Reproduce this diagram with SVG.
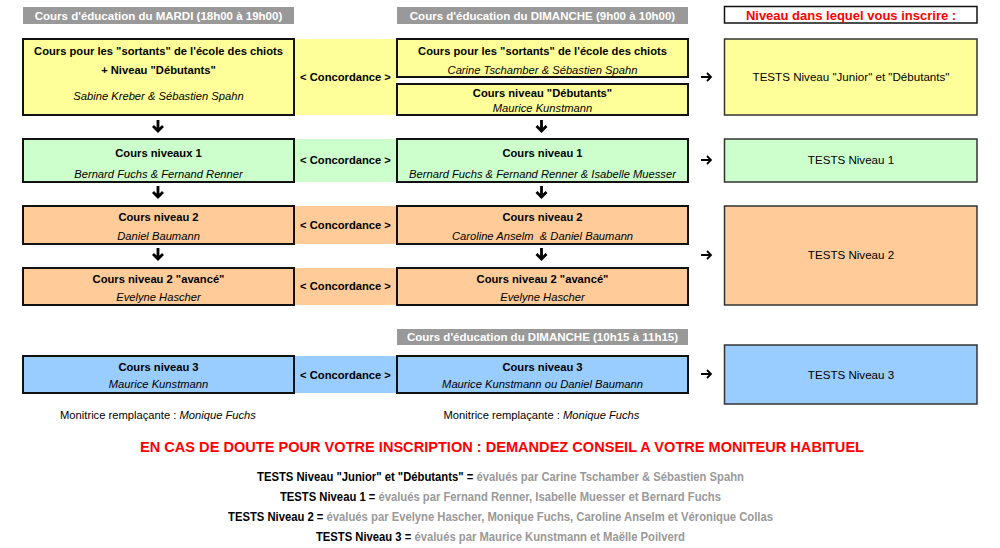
<svg xmlns="http://www.w3.org/2000/svg" width="1000" height="548" viewBox="0 0 1000 548">
<style>
text{font-family:"Liberation Sans",Arial,sans-serif;font-size:11.2px;text-anchor:middle;fill:#000}
.b{font-weight:bold}
.i{font-style:italic}
.t{font-size:11.6px}
.hd{fill:#999999}
.ht{fill:#fff;font-weight:bold;font-size:11.5px}
.box{stroke:#111;stroke-width:2}
.tb{stroke:#333;stroke-width:1.5}
.y{fill:#ffff99}.g{fill:#ccffcc}.o{fill:#ffcc99}.bl{fill:#99ccff}
.arr{fill:none;stroke:#000;stroke-width:2.8;stroke-linecap:butt}
.ra{fill:none;stroke:#000;stroke-width:1.8}
.gr{fill:#999999}
</style>
<rect width="1000" height="548" fill="#fff"/>
<g id="headers">
<rect class="hd" x="23" y="7" width="271" height="17"/>
<text class="ht" x="158.5" y="19.5">Cours d'éducation du MARDI (18h00 à 19h00)</text>
<rect class="hd" x="397" y="7" width="291" height="17"/>
<text class="ht" x="542.5" y="19.5">Cours d'éducation du DIMANCHE (9h00 à 10h00)</text>
<rect x="724.5" y="6.5" width="252.5" height="16.5" fill="#fff" stroke="#111" stroke-width="1.5"/>
<text x="851" y="19.5" class="b" style="fill:#ff0000;font-size:13px">Niveau dans lequel vous inscrire :</text>
<rect class="hd" x="397" y="329" width="291" height="16"/>
<text class="ht" x="542.5" y="341">Cours d'éducation du DIMANCHE (10h15 à 11h15)</text>
</g>
<g id="concordances">
<rect class="y" x="294" y="39" width="103" height="76"/>
<text class="b" x="345.5" y="81">&lt; Concordance &gt;</text>
<rect class="g" x="294" y="139" width="103" height="43"/>
<text class="b" x="345.5" y="164">&lt; Concordance &gt;</text>
<rect class="o" x="294" y="206" width="103" height="38"/>
<text class="b" x="345.5" y="229">&lt; Concordance &gt;</text>
<rect class="o" x="294" y="268" width="103" height="37"/>
<text class="b" x="345.5" y="290">&lt; Concordance &gt;</text>
<rect class="bl" x="294" y="356" width="103" height="37"/>
<text class="b" x="345.5" y="379">&lt; Concordance &gt;</text>
</g>
<g id="mardi-sortants">
<rect class="box y" x="23" y="39" width="271" height="76"/>
<text class="b" x="158.5" y="55">Cours pour les "sortants" de l'école des chiots</text>
<text class="b" x="158.5" y="74">+ Niveau "Débutants"</text>
<text class="i" x="158.5" y="100">Sabine Kreber &amp; Sébastien Spahn</text>
</g>
<g id="dim-sortants">
<rect class="box y" x="397" y="39" width="291" height="38"/>
<text class="b" x="542.5" y="55">Cours pour les "sortants" de l'école des chiots</text>
<text class="i" x="542.5" y="74">Carine Tschamber &amp; Sébastien Spahn</text>
</g>
<g id="dim-debutants">
<rect class="box y" x="397" y="84" width="291" height="31"/>
<text class="b" x="542.5" y="97">Cours niveau "Débutants"</text>
<text class="i" x="542.5" y="112">Maurice Kunstmann</text>
</g>
<g id="tests-junior">
<rect class="tb y" x="724.5" y="39" width="252.5" height="76"/>
<text class="t" x="851" y="81">TESTS Niveau "Junior" et "Débutants"</text>
</g>
<g id="mardi-n1">
<rect class="box g" x="23" y="139" width="271" height="43"/>
<text class="b" x="158.5" y="157">Cours niveaux 1</text>
<text class="i" x="158.5" y="178">Bernard Fuchs &amp; Fernand Renner</text>
</g>
<g id="dim-n1">
<rect class="box g" x="397" y="139" width="291" height="43"/>
<text class="b" x="542.5" y="157">Cours niveau 1</text>
<text class="i" x="542.5" y="178">Bernard Fuchs &amp; Fernand Renner &amp; Isabelle Muesser</text>
</g>
<g id="tests-n1">
<rect class="tb g" x="724.5" y="139" width="252.5" height="43"/>
<text class="t" x="851" y="164">TESTS Niveau 1</text>
</g>
<g id="mardi-n2">
<rect class="box o" x="23" y="206" width="271" height="38"/>
<text class="b" x="158.5" y="221">Cours niveau 2</text>
<text class="i" x="158.5" y="240">Daniel Baumann</text>
</g>
<g id="dim-n2">
<rect class="box o" x="397" y="206" width="291" height="38"/>
<text class="b" x="542.5" y="221">Cours niveau 2</text>
<text class="i" x="542.5" y="240" xml:space="preserve">Caroline Anselm  &amp; Daniel Baumann</text>
</g>
<g id="mardi-n2a">
<rect class="box o" x="23" y="268" width="271" height="37"/>
<text class="b" x="158.5" y="283">Cours niveau 2 "avancé"</text>
<text class="i" x="158.5" y="301">Evelyne Hascher</text>
</g>
<g id="dim-n2a">
<rect class="box o" x="397" y="268" width="291" height="37"/>
<text class="b" x="542.5" y="283">Cours niveau 2 "avancé"</text>
<text class="i" x="542.5" y="301">Evelyne Hascher</text>
</g>
<g id="tests-n2">
<rect class="tb o" x="724.5" y="206" width="252.5" height="99"/>
<text class="t" x="851" y="259">TESTS Niveau 2</text>
</g>
<g id="mardi-n3">
<rect class="box bl" x="23" y="356" width="271" height="37"/>
<text class="b" x="158.5" y="371">Cours niveau 3</text>
<text class="i" x="158.5" y="388">Maurice Kunstmann</text>
</g>
<g id="dim-n3">
<rect class="box bl" x="397" y="356" width="291" height="37"/>
<text class="b" x="542.5" y="371">Cours niveau 3</text>
<text class="i" x="542.5" y="388">Maurice Kunstmann ou Daniel Baumann</text>
</g>
<g id="tests-n3">
<rect class="tb bl" x="724.5" y="345" width="252.5" height="59"/>
<text class="t" x="851" y="379">TESTS Niveau 3</text>
</g>
<g id="connectors">
<path class="arr" d="M158 120V131M153 126L158 131L163 126"/>
<path class="arr" d="M541.5 120V131M536.5 126L541.5 131L546.5 126"/>
<path class="arr" d="M158 186V197M153 192L158 197L163 192"/>
<path class="arr" d="M541.5 186V197M536.5 192L541.5 197L546.5 192"/>
<path class="arr" d="M158 248V259M153 254L158 259L163 254"/>
<path class="arr" d="M541.5 248V259M536.5 254L541.5 259L546.5 254"/>
<path class="ra" d="M701 77H711M707 73L711 77L707 81"/>
<path class="ra" d="M701 160H711M707 156L711 160L707 164"/>
<path class="ra" d="M701 255H711M707 251L711 255L707 259"/>
<path class="ra" d="M701 374H711M707 370L711 374L707 378"/>
</g>
<g id="notes">
<text x="158" y="419">Monitrice remplaçante : <tspan class="i">Monique Fuchs</tspan></text>
<text x="541.5" y="419">Monitrice remplaçante : <tspan class="i">Monique Fuchs</tspan></text>
<text class="b" x="502" y="452" style="fill:#ff0000;font-size:15px" textLength="724" lengthAdjust="spacingAndGlyphs">EN CAS DE DOUTE POUR VOTRE INSCRIPTION : DEMANDEZ CONSEIL A VOTRE MONITEUR HABITUEL</text>
<text class="b" x="500.5" y="481" style="font-size:12px" textLength="487" lengthAdjust="spacingAndGlyphs">TESTS Niveau "Junior" et "Débutants" = <tspan class="gr">évalués par Carine Tschamber &amp; Sébastien Spahn</tspan></text>
<text class="b" x="500.5" y="501" style="font-size:12px" textLength="441" lengthAdjust="spacingAndGlyphs">TESTS Niveau 1 = <tspan class="gr">évalués par Fernand Renner, Isabelle Muesser et Bernard Fuchs</tspan></text>
<text class="b" x="500.5" y="521" style="font-size:12px" textLength="545" lengthAdjust="spacingAndGlyphs">TESTS Niveau 2 = <tspan class="gr">évalués par Evelyne Hascher, Monique Fuchs, Caroline Anselm et Véronique Collas</tspan></text>
<text class="b" x="500.5" y="541" style="font-size:12px" textLength="369" lengthAdjust="spacingAndGlyphs">TESTS Niveau 3 = <tspan class="gr">évalués par Maurice Kunstmann et Maëlle Poilverd</tspan></text>
</g>
</svg>
